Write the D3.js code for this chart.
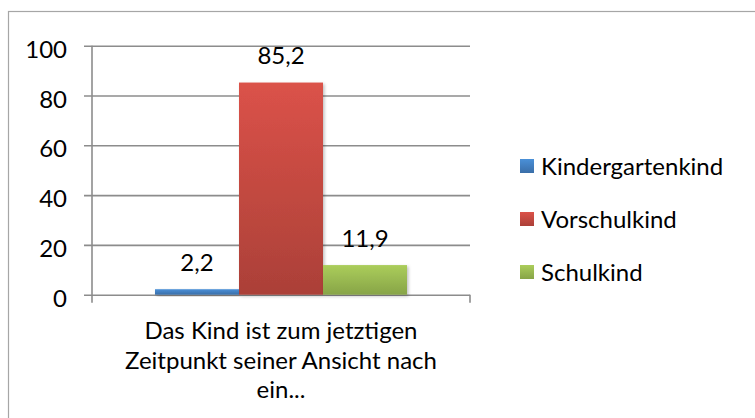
<!DOCTYPE html>
<html>
<head>
<meta charset="utf-8">
<script src="https://cdn.jsdelivr.net/npm/d3@7"></script>
<style>
  html, body { margin: 0; padding: 0; background: #fff; }
  svg { display: block; }
  text { font-family: Lato, "Open Sans", sans-serif; fill: #000; }
</style>
</head>
<body>
<svg id="chart" width="755" height="418"></svg>
<script>
const categories = ["Das Kind ist zum jetztigen Zeitpunkt seiner Ansicht nach ein..."];
const categoryLines = [["Das Kind ist zum jetztigen", "Zeitpunkt seiner Ansicht nach", "ein..."]];
const seriesNames = ["Kindergartenkind", "Vorschulkind", "Schulkind"];
const seriesValues = [2.2, 85.2, 11.9];
const seriesLabels = ["2,2", "85,2", "11,9"];
const yTicks = [0, 20, 40, 60, 80, 100];
const colorsTop = ["#4a90d8", "#db5249", "#abcd5b"];
const colorsBottom = ["#3a6ea8", "#ab4038", "#87a447"];

const svg = d3.select("#chart");
const FS = 24;

// outer frame
svg.append("rect").attr("x", 8.5).attr("y", 11.5).attr("width", 800).attr("height", 500)
  .attr("fill", "#fff").attr("stroke", "#a6a6a6").attr("stroke-width", 1.2);

const defs = svg.append("defs");
seriesNames.forEach((s, i) => {
  const g = defs.append("linearGradient").attr("id", "g" + i)
    .attr("x1", 0).attr("y1", 0).attr("x2", 0).attr("y2", 1);
  g.append("stop").attr("offset", "0%").attr("stop-color", colorsTop[i]);
  g.append("stop").attr("offset", "100%").attr("stop-color", colorsBottom[i]);
});
const f = defs.append("filter").attr("id", "sh").attr("x", "-20%").attr("y", "-20%").attr("width", "150%").attr("height", "150%");
f.append("feDropShadow").attr("dx", 1.5).attr("dy", 1.5).attr("stdDeviation", 1.5)
  .attr("flood-color", "#000").attr("flood-opacity", 0.25);

const x0 = 92, x1 = 470, yTop = 45.7, yBot = 294.7;
const y = d3.scaleLinear().domain([0, 100]).range([yBot, yTop]);
const xCat = d3.scaleBand().domain(categories).range([x0, x1]).paddingInner(0).paddingOuter(0.25);
const xSer = d3.scaleBand().domain(seriesNames).range([0, xCat.bandwidth()]).padding(0);

// gridlines + y axis
const yAxis = d3.axisLeft(y).tickValues(yTicks).tickSize(-(x1 - x0)).tickPadding(25)
  .tickFormat(d3.format("d"));
const ya = svg.append("g").attr("transform", `translate(${x0},0)`).call(yAxis);
ya.select(".domain").remove();
ya.selectAll(".tick line").attr("x1", -8).attr("stroke", "#8c8c8c").attr("stroke-width", 1.6);
ya.selectAll(".tick text").attr("font-size", FS).attr("dy", "0.48em")
  .attr("font-family", "Lato, 'Open Sans', sans-serif").attr("fill", "#000");

// axis lines
svg.append("line").attr("x1", x0).attr("x2", x0).attr("y1", yTop).attr("y2", yBot + 8)
  .attr("stroke", "#8c8c8c").attr("stroke-width", 1.6);
svg.append("line").attr("x1", x1).attr("x2", x1).attr("y1", yBot).attr("y2", yBot + 8)
  .attr("stroke", "#8c8c8c").attr("stroke-width", 1.6);

// bars
const gBars = svg.append("g").attr("transform", `translate(${xCat(categories[0])},0)`);
gBars.selectAll("rect").data(seriesValues).join("rect")
  .attr("x", (d, i) => xSer(seriesNames[i]))
  .attr("y", d => y(d))
  .attr("width", xSer.bandwidth())
  .attr("height", d => y(0) - y(d))
  .attr("fill", (d, i) => `url(#g${i})`)
  .attr("filter", "url(#sh)");

gBars.selectAll("text.lbl").data(seriesValues).join("text").attr("class", "lbl")
  .attr("x", (d, i) => xSer(seriesNames[i]) + xSer.bandwidth() / 2)
  .attr("y", d => y(d) - 27)
  .attr("dy", "0.36em")
  .attr("text-anchor", "middle")
  .attr("font-size", FS)
  .text((d, i) => seriesLabels[i]);

// category label
const cx = xCat(categories[0]) + xCat.bandwidth() / 2;
svg.append("g").selectAll("text").data(categoryLines[0]).join("text")
  .attr("x", cx).attr("y", (d, i) => 339 + i * 29.5)
  .attr("text-anchor", "middle").attr("font-size", FS).text(d => d);

// legend
const lg = svg.append("g");
seriesNames.forEach((s, i) => {
  const cy = 166 + i * 53;
  lg.append("rect").attr("x", 520).attr("y", cy - 7).attr("width", 14).attr("height", 14)
    .attr("fill", `url(#g${i})`);
  lg.append("text").attr("x", 541).attr("y", cy).attr("dy", "0.36em")
    .attr("font-size", FS).text(s);
});
</script>
</body>
</html>
